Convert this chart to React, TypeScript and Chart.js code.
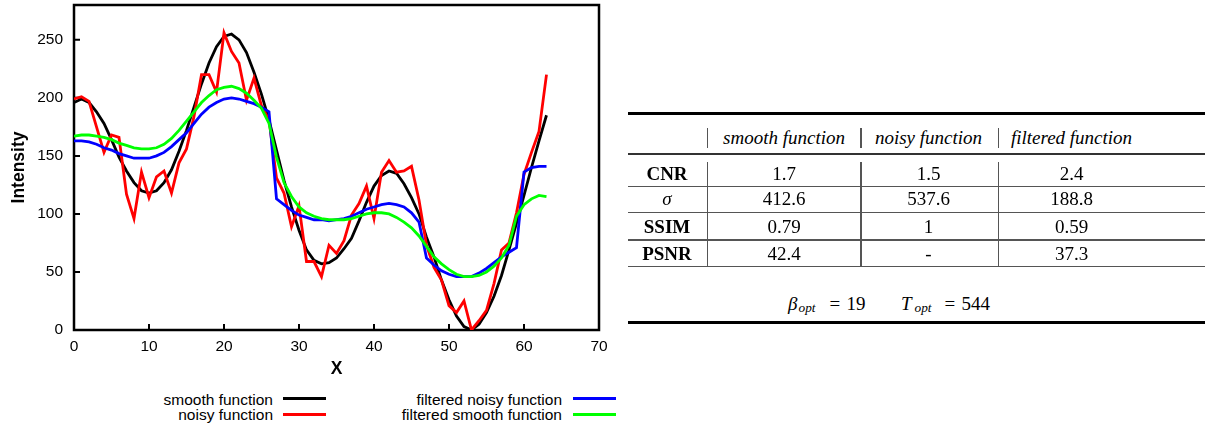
import React, { useEffect, useRef } from "react";
import { Chart, registerables } from "chart.js";

Chart.register(...registerables);

// ---------- data ----------
const xValues = [
  0, 1, 2, 3, 4, 5, 6, 7, 8, 9, 10, 11, 12, 13, 14, 15, 16, 17, 18, 19, 20, 21,
  22, 23, 24, 25, 26, 27, 28, 29, 30, 31, 32, 33, 34, 35, 36, 37, 38, 39, 40, 41,
  42, 43, 44, 45, 46, 47, 48, 49, 50, 51, 52, 53, 54, 55, 56, 57, 58, 59, 60, 61,
  62, 63,
];

const smoothFunction = [
  196, 199, 196, 188, 178, 164, 149, 137, 127, 120, 118, 120, 127, 138, 154, 172,
  192, 212, 230, 244, 253, 255, 250, 239, 222, 203, 181, 155, 129, 106, 86, 69,
  60, 57, 58, 62, 70, 79, 94, 110, 124, 133, 137, 135, 126, 114, 100, 80,
  63, 43, 26, 12, 3, 0, 5, 15, 29, 47, 69, 92, 116, 140, 163, 185,
];

const noisyFunction = [
  199, 201, 197, 175, 153, 168, 166, 117, 96, 136, 114, 132, 137, 118, 144, 156,
  184, 220, 220, 205, 256, 240, 230, 198, 217, 193, 181, 131, 118, 89, 107, 59,
  59, 46, 73, 66, 77, 99, 109, 124, 96, 136, 146, 136, 137, 141, 112, 73,
  54, 43, 21, 15, 25, 0, 8, 17, 40, 69, 75, 101, 134, 153, 171, 220,
];

const filteredNoisyFunction = [
  163, 163, 162, 160, 157, 155, 152, 150, 148, 148, 148, 150, 153, 158, 164, 170,
  178, 186, 192, 196, 199, 200, 199, 197, 195, 192, 188, 113, 108, 103, 99, 97,
  95, 95, 94, 95, 96, 98, 101, 104, 106, 108, 109, 108, 106, 101, 93, 62,
  56, 51, 48, 46, 46, 46, 49, 53, 58, 63, 67, 71, 136, 140, 141, 141,
];

const filteredSmoothFunction = [
  167, 168, 168, 167, 166, 164, 161, 159, 157, 156, 156, 157, 160, 165, 172, 180,
  188, 196, 202, 207, 209, 210, 208, 204, 198, 191, 178, 149, 127, 115, 106, 101,
  98, 96, 95, 95, 95, 96, 98, 100, 101, 101, 100, 97, 93, 88, 81, 72,
  63, 57, 52, 48, 46, 46, 47, 50, 55, 62, 73, 98, 108, 113, 116, 115,
];

const xTicks = [0, 10, 20, 30, 40, 50, 60, 70];
const yTicks = [0, 50, 100, 150, 200, 250];

const seriesNames = [
  "smooth function",
  "noisy function",
  "filtered noisy function",
  "filtered smooth function",
];
const seriesColors = ["#000000", "#ff0000", "#0000ff", "#00ff00"];

const tableHeaders = ["smooth function", "noisy function", "filtered function"];
const tableRowLabels = ["CNR", "σ", "SSIM", "PSNR"];
const tableValues = [
  ["1.7", "1.5", "2.4"],
  ["412.6", "537.6", "188.8"],
  ["0.79", "1", "0.59"],
  ["42.4", "-", "37.3"],
];
const betaOpt = "19";
const tOpt = "544";

// ---------- chart ----------
const SANS = '"Liberation Sans", Arial, Helvetica, sans-serif';
const SERIF = '"Liberation Serif", "Times New Roman", Times, serif';

const framePlugin = {
  id: "gnuFrame",
  beforeDatasetsDraw(chart: any) {
    const { ctx, chartArea: a, scales } = chart;
    ctx.save();
    ctx.strokeStyle = "#000";
    ctx.lineWidth = 2.5;
    ctx.strokeRect(a.left, a.top, a.right - a.left, a.bottom - a.top);
    ctx.lineWidth = 2;
    ctx.beginPath();
    yTicks.forEach((v) => {
      const y = scales.y.getPixelForValue(v);
      ctx.moveTo(a.left, y);
      ctx.lineTo(a.left + 6, y);
    });
    xTicks.forEach((v) => {
      const x = scales.x.getPixelForValue(v);
      ctx.moveTo(x, a.bottom);
      ctx.lineTo(x, a.bottom - 6);
    });
    ctx.stroke();
    ctx.restore();
  },
};

function zeroPad(s: any) {
  s.paddingTop = 0;
  s.paddingBottom = 0;
  s.paddingLeft = 0;
  s.paddingRight = 0;
}

function LineChart() {
  const ref = useRef<HTMLCanvasElement | null>(null);
  useEffect(() => {
    if (!ref.current) return;
    const series = [
      smoothFunction,
      noisyFunction,
      filteredNoisyFunction,
      filteredSmoothFunction,
    ];
    const orders = [3, 2, 1, 0];
    const chart = new Chart(ref.current, {
      type: "line",
      data: {
        datasets: series.map((vals, i) => ({
          label: seriesNames[i],
          data: xValues.map((x, j) => ({ x, y: vals[j] })),
          borderColor: seriesColors[i],
          backgroundColor: seriesColors[i],
          borderWidth: 2.8,
          pointRadius: 0,
          tension: 0,
          fill: false,
          order: orders[i],
        })),
      },
      options: {
        animation: false,
        responsive: false,
        events: [],
        layout: { padding: { top: 5, right: 11, left: 0, bottom: 0 } },
        plugins: {
          legend: { display: false },
          tooltip: { enabled: false },
        },
        scales: {
          x: {
            type: "linear",
            min: 0,
            max: 70,
            grid: { display: false, drawTicks: false },
            border: { display: false },
            afterBuildTicks: (s: any) => {
              s.ticks = xTicks.map((value) => ({ value }));
            },
            afterFit: (s: any) => {
              s.height = 50;
              zeroPad(s);
            },
            ticks: {
              color: "#000",
              padding: 7,
              maxRotation: 0,
              font: { family: SANS, size: 15.5 },
            },
            title: {
              display: true,
              text: "X",
              color: "#000",
              font: { family: SANS, size: 17.5, weight: "bold" },
              padding: { top: 0, bottom: 0 },
            },
          },
          y: {
            type: "linear",
            min: 0,
            max: 280,
            grid: { display: false, drawTicks: false },
            border: { display: false },
            afterBuildTicks: (s: any) => {
              s.ticks = yTicks.map((value) => ({ value }));
            },
            afterFit: (s: any) => {
              s.width = 74;
              zeroPad(s);
            },
            ticks: {
              color: "#000",
              padding: 11,
              font: { family: SANS, size: 15.5 },
            },
            title: {
              display: true,
              text: "Intensity",
              color: "#000",
              font: { family: SANS, size: 17.5, weight: "bold" },
              padding: { top: 9, bottom: 0 },
            },
          },
        },
      },
      plugins: [framePlugin],
    } as any);
    return () => chart.destroy();
  }, []);
  return (
    <canvas
      ref={ref}
      width={610}
      height={380}
      style={{ position: "absolute", left: 0, top: 0, width: 610, height: 380, display: "block" }}
    />
  );
}

// ---------- legend ----------
function LegendItem({ textRight, lineLeft, baseline, lineY, label, color }: any) {
  return (
    <>
      <div
        style={{
          position: "absolute",
          left: textRight - 300,
          width: 300,
          top: baseline - 14.4,
          height: 18,
          lineHeight: "18px",
          textAlign: "right",
          fontFamily: SANS,
          fontSize: 15.5,
          color: "#000",
          whiteSpace: "nowrap",
        }}
      >
        {label}
      </div>
      <div
        style={{
          position: "absolute",
          left: lineLeft,
          width: 43,
          top: lineY - 1.5,
          height: 3,
          background: color,
        }}
      />
    </>
  );
}

// ---------- table ----------
const BL = 18.4; // baseline offset inside a 24px line box at 19px serif

function Cell({ cx, baseline, children, bold, italic }: any) {
  return (
    <div
      style={{
        position: "absolute",
        left: cx - 100,
        width: 200,
        top: baseline - BL,
        height: 24,
        lineHeight: "24px",
        textAlign: "center",
        fontFamily: SERIF,
        fontSize: 19,
        fontWeight: bold ? "bold" : "normal",
        fontStyle: italic ? "italic" : "normal",
        color: "#000",
        whiteSpace: "nowrap",
      }}
    >
      {children}
    </div>
  );
}

function Piece({ left, baseline, size, italic, children }: any) {
  const bl = size === 19 ? BL : 12.6;
  return (
    <div
      style={{
        position: "absolute",
        left,
        top: baseline - bl,
        height: size === 19 ? 24 : 16,
        lineHeight: size === 19 ? "24px" : "16px",
        fontFamily: SERIF,
        fontSize: size,
        fontStyle: italic ? "italic" : "normal",
        color: "#000",
        whiteSpace: "nowrap",
      }}
    >
      {children}
    </div>
  );
}

function HRule({ top, height, color }: any) {
  return (
    <div style={{ position: "absolute", left: 628, width: 577, top, height, background: color }} />
  );
}

function VRule({ left, top, bottom }: any) {
  return (
    <div style={{ position: "absolute", left, width: 1.6, top, height: bottom - top, background: "#555" }} />
  );
}

function MetricsTable() {
  const colCenters = [784, 928.5, 1071.5];
  const labelCenter = 667;
  const rowBaselines = [180, 205.7, 233.3, 260];
  const rowRules = [185.5, 211.5, 239, 265.5];
  const vlines = [706.5, 860, 997.5];
  return (
    <>
      <HRule top={112.3} height={2.7} color="#000" />
      {tableHeaders.map((h, i) => (
        <Cell key={"h" + i} cx={colCenters[i]} baseline={144.3} italic>
          {h}
        </Cell>
      ))}
      {vlines.map((x, i) => (
        <VRule key={"vh" + i} left={x} top={128} bottom={148} />
      ))}
      <HRule top={153} height={2} color="#333" />
      {tableRowLabels.map((lab, r) => (
        <React.Fragment key={"r" + r}>
          <Cell cx={labelCenter} baseline={rowBaselines[r]} bold={lab !== "σ"} italic={lab === "σ"}>
            {lab}
          </Cell>
          {tableValues[r].map((v, c) => (
            <Cell key={"c" + c} cx={colCenters[c]} baseline={rowBaselines[r]}>
              {v}
            </Cell>
          ))}
          <HRule top={rowRules[r]} height={1.6} color="#555" />
        </React.Fragment>
      ))}
      {vlines.map((x, i) => (
        <VRule key={"vb" + i} left={x} top={162} bottom={267} />
      ))}
      <Piece left={788} baseline={310} size={19} italic>β</Piece>
      <Piece left={798.5} baseline={312.5} size={13.3} italic>opt</Piece>
      <Piece left={829.5} baseline={310} size={19}>=</Piece>
      <Piece left={846.5} baseline={310} size={19}>{betaOpt}</Piece>
      <Piece left={901} baseline={310} size={19} italic>T</Piece>
      <Piece left={914.5} baseline={312.5} size={13.3} italic>opt</Piece>
      <Piece left={944.5} baseline={310} size={19}>=</Piece>
      <Piece left={961.5} baseline={310} size={19}>{tOpt}</Piece>
      <HRule top={321} height={3} color="#000" />
    </>
  );
}

export default function App() {
  return (
    <div
      style={{
        position: "absolute",
        left: 0,
        top: 0,
        width: 1208,
        height: 427,
        overflow: "hidden",
        background: "#fff",
      }}
    >
      <LineChart />
      <LegendItem textRight={273} lineLeft={283} baseline={405} lineY={398.5} label={seriesNames[0]} color={seriesColors[0]} />
      <LegendItem textRight={273} lineLeft={283} baseline={420} lineY={414} label={seriesNames[1]} color={seriesColors[1]} />
      <LegendItem textRight={562} lineLeft={573} baseline={405} lineY={398.5} label={seriesNames[2]} color={seriesColors[2]} />
      <LegendItem textRight={562} lineLeft={573} baseline={420} lineY={414} label={seriesNames[3]} color={seriesColors[3]} />
      <MetricsTable />
    </div>
  );
}
